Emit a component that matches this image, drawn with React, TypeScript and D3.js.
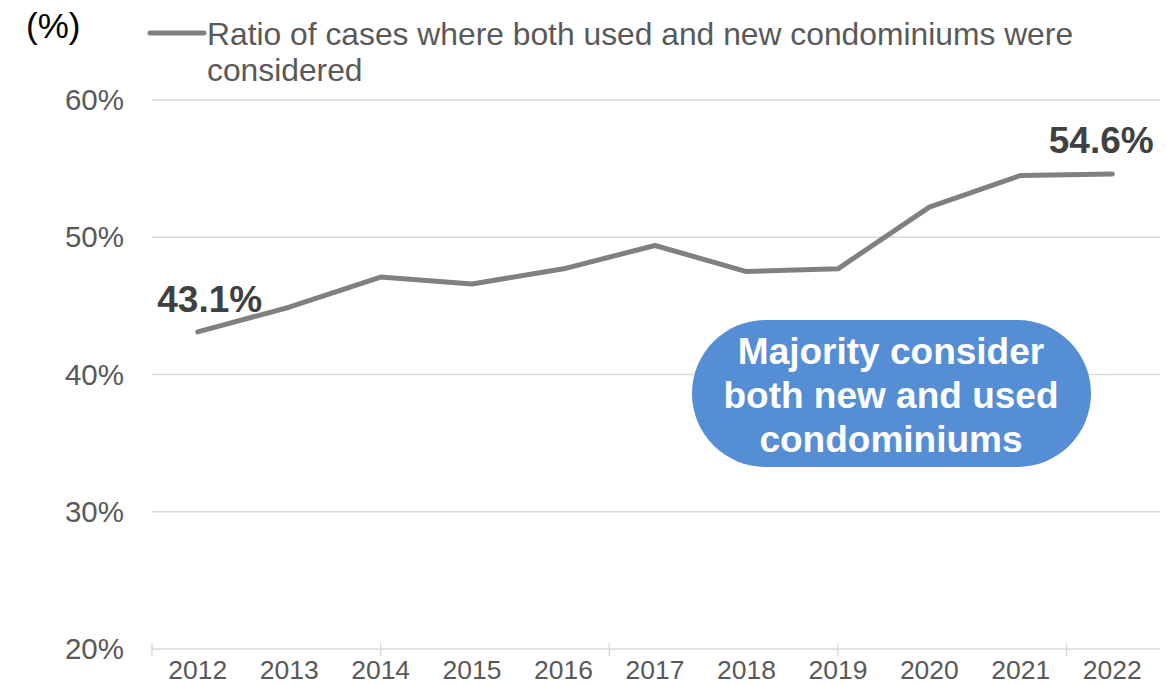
import React from "react";
import * as d3 from "d3";

const years = ["2012","2013","2014","2015","2016","2017","2018","2019","2020","2021","2022"];
const ratios = [43.1, 44.9, 47.1, 46.6, 47.7, 49.4, 47.5, 47.7, 52.2, 54.5, 54.6];
const yTicks = [20, 30, 40, 50, 60];
const legendLines = ["Ratio of cases where both used and new condominiums were", "considered"];
const calloutLines = ["Majority consider", "both new and used", "condominiums"];
const labelled = [{ i: 0, text: "43.1%" }, { i: 10, text: "54.6%" }];
const axisTickPositions = [0, 2.5, 5, 7.5, 10];

const W = 1166, H = 685;
const FONT = "'Liberation Sans', Arial, Helvetica, sans-serif";

export default function App() {
  const x = d3.scaleBand<string>().domain(years).range([152, 1158]);
  const y = d3.scaleLinear().domain([20, 60]).range([649, 100]);
  const cx = (d: string) => (x(d) as number) + x.bandwidth() / 2;
  const line = d3.line<number>().x((_, i) => cx(years[i])).y((d) => y(d));
  const step = x.step();

  return (
    <svg width={W} height={H} style={{ position: "absolute", left: 0, top: 0, background: "#fff" }} fontFamily={FONT}>
      {yTicks.slice(1).map((t) => (
        <line key={t} x1={152} x2={1160} y1={y(t)} y2={y(t)} stroke="#d9d9d9" strokeWidth={1.3} />
      ))}
      <line x1={152} x2={1160} y1={y(20)} y2={y(20)} stroke="#d9d9d9" strokeWidth={1.5} />
      {axisTickPositions.map((k) => (
        <line key={k} x1={152 + k * step} x2={152 + k * step} y1={y(20) - 6} y2={y(20) + 7} stroke="#d9d9d9" strokeWidth={1.3} />
      ))}
      {yTicks.map((t) => (
        <text key={t} x={124} y={y(t) + 10} textAnchor="end" fontSize={29.5} fill="#595959">{t}%</text>
      ))}
      {years.map((yr) => (
        <text key={yr} x={cx(yr)} y={679} textAnchor="middle" fontSize={26.5} fill="#595959">{yr}</text>
      ))}
      <path d={line(ratios) || ""} fill="none" stroke="#808080" strokeWidth={5} strokeLinecap="round" strokeLinejoin="round" />
      {labelled.map((l) => (
        <text key={l.i} x={cx(years[l.i]) + (l.i === 0 ? 12 : -11)} y={y(ratios[l.i]) + (l.i === 0 ? -20 : -21)} textAnchor="middle" fontSize={37} fontWeight="bold" fill="#404040">{l.text}</text>
      ))}
      <text x={26} y={38} fontSize={35} fill="#000">(%)</text>
      <line x1={150} x2={204} y1={33} y2={33} stroke="#808080" strokeWidth={5} strokeLinecap="round" />
      {legendLines.map((s, i) => (
        <text key={i} x={207} y={45 + i * 36} fontSize={31.8} fill="#595959">{s}</text>
      ))}
      <rect x={692} y={320} width={399} height={147} rx={73.5} ry={73.5} fill="#558ed5" />
      {calloutLines.map((s, i) => (
        <text key={i} x={891} y={364 + i * 44} textAnchor="middle" fontSize={37} fontWeight="bold" fill="#fff">{s}</text>
      ))}
    </svg>
  );
}
